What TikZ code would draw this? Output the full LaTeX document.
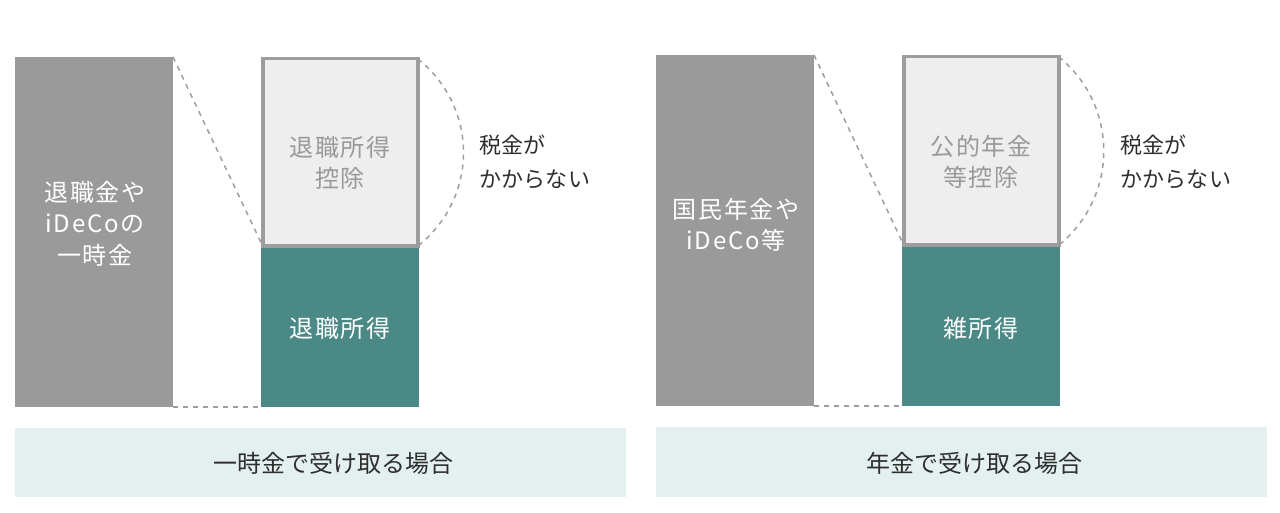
\documentclass[tikz,border=0pt]{standalone}
\usepackage{fontspec}
\setmainfont{Noto Sans CJK JP}
\newfontfamily\jpW[LetterSpace=8]{Noto Sans CJK JP}
\newfontfamily\jpN[LetterSpace=1]{Noto Sans CJK JP}
\definecolor{grayblk}{HTML}{9A9A9A}
\definecolor{lightfill}{HTML}{EEEEEE}
\definecolor{lightedge}{HTML}{9D9D9D}
\definecolor{tealblk}{HTML}{4B8987}
\definecolor{barfill}{HTML}{E3F0EF}
\definecolor{darktxt}{HTML}{2E2E2E}
\definecolor{softtxt}{HTML}{999999}
\definecolor{dashcol}{HTML}{9E9E9E}
\tikzset{
  blk/.style={rectangle, anchor=north west, inner sep=0pt, outer sep=0pt},
  graybox/.style={blk, fill=grayblk},
  lightbox/.style={blk, fill=lightfill, draw=lightedge, line width=3.5pt},
  tealbox/.style={blk, fill=tealblk},
  barbox/.style={blk, fill=barfill},
  boxtxt/.style={align=center, inner sep=0pt, font=\jpW\fontsize{24}{31.5}\selectfont},
  sidetxt/.style={align=left, inner sep=0pt, anchor=west, text=darktxt, font=\jpN\fontsize{22}{34}\selectfont},
  bartxt/.style={inner sep=0pt, text=darktxt, font=\fontsize{24}{30}\selectfont},
  guide/.style={draw=dashcol, line width=1.5pt, dash pattern=on 5pt off 5pt},
}
\begin{document}
\begin{tikzpicture}[x=1pt, y=-1pt]
\useasboundingbox (0,0) rectangle (1280,513);
% ---------- left panel ----------
\node[graybox, minimum width=158pt, minimum height=350pt] (g1) at (15,57) {};
\node[tealbox, minimum width=158pt, minimum height=159pt] (t1) at (261,248) {};
\node[lightbox, minimum width=155pt, minimum height=187.5pt] (l1) at (262.75,58.75) {};
\node[barbox, minimum width=611pt, minimum height=69pt] (b1) at (15,428) {};
\draw[guide] (g1.north east) -- (l1.south west);
\draw[guide] (g1.south east) -- (t1.south west);
\draw[guide] (l1.north east) .. controls +(61,49) and +(61,-49) .. (l1.south east);
\node[boxtxt, text=white] (gt1) at (95,223.5) {退職金や\\iDeCoの\\一時金};
\node[boxtxt, text=softtxt] (lt1) at (340,163) {退職所得\\控除};
\node[boxtxt, text=white] (tt1) at (340,328) {退職所得};
\node[sidetxt] (nt1) at (479,162) {税金が\\かからない};
\node[bartxt] (bt1) at (333,463) {一時金で受け取る場合};
% ---------- right panel ----------
\node[graybox, minimum width=158pt, minimum height=351pt] (g2) at (656,55) {};
\node[tealbox, minimum width=158pt, minimum height=159pt] (t2) at (902,247) {};
\node[lightbox, minimum width=155pt, minimum height=188.5pt] (l2) at (903.75,56.75) {};
\node[barbox, minimum width=611pt, minimum height=70pt] (b2) at (656,427) {};
\draw[guide] (g2.north east) -- (l2.south west);
\draw[guide] (g2.south east) -- (t2.south west);
\draw[guide] (l2.north east) .. controls +(60,49) and +(60,-49) .. (l2.south east);
\node[boxtxt, text=white] (gt2) at (736,225) {国民年金や\\iDeCo等};
\node[boxtxt, text=softtxt] (lt2) at (981,162) {公的年金\\等控除};
\node[boxtxt, text=white] (tt2) at (981,328) {雑所得};
\node[sidetxt] (nt2) at (1120,162) {税金が\\かからない};
\node[bartxt] (bt2) at (974,463) {年金で受け取る場合};
\end{tikzpicture}
\end{document}
